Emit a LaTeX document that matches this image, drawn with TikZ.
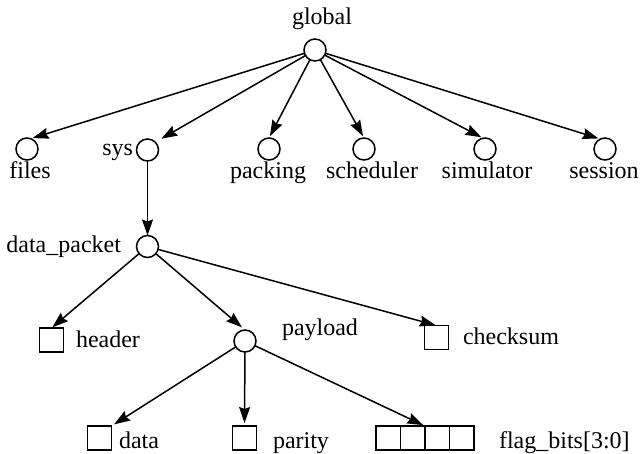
\documentclass[tikz,border=0pt]{standalone}
\usepackage{fontspec}
\setmainfont{Liberation Serif}
\usetikzlibrary{arrows.meta,calc}
\begin{document}
\begin{tikzpicture}[x=1pt,y=-1pt,
  every node/.style={inner sep=0pt,outer sep=0pt},
  dot/.style={draw,circle,line width=1.5pt,minimum size=22pt},
  box/.style={draw,rectangle,line width=1.5pt,minimum width=24pt,minimum height=24pt},
  lbl/.style={font=\fontsize{24}{28}\selectfont},
  arr/.style={line width=1.5pt,-{Stealth[length=16pt,width=11pt,inset=2pt]}},
  wire/.style={line width=1.5pt}]
\useasboundingbox (0,0) rectangle (644,454);

% root scope
\node[dot] (global) at (315,50) {};
\node[lbl,anchor=base] (globalL) at (322,25) {global};

% first level
\node[dot] (files) at (27,149) {};
\node[dot] (sys) at (147.5,150) {};
\node[dot] (packing) at (269,149) {};
\node[dot] (scheduler) at (364,149) {};
\node[dot] (simulator) at (485,149) {};
\node[dot] (session) at (605,149) {};
\node[lbl,anchor=base] (filesL) at (30,179) {files};
\node[lbl,anchor=base east] (sysL) at (133,156) {sys};
\node[lbl,anchor=base] (packingL) at (268,179) {packing};
\node[lbl,anchor=base] (schedulerL) at (372,179) {scheduler};
\node[lbl,anchor=base] (simulatorL) at (487,179) {simulator};
\node[lbl,anchor=base] (sessionL) at (604,179) {session};

% data_packet structure
\node[dot] (dp) at (147.5,246.5) {};
\node[lbl,anchor=base east] (dpL) at (121,252) {data\_packet};
\node[box] (header) at (51.5,340) {};
\node[lbl,anchor=base west] (headerL) at (76,347) {header};
\node[dot] (payload) at (245,341) {};
\node[lbl,anchor=base west] (payloadL) at (282,335) {payload};
\node[box] (checksum) at (436.5,337.5) {};
\node[lbl,anchor=base west] (checksumL) at (463,344) {checksum};

% payload fields
\node[box] (data) at (99.5,438) {};
\node[lbl,anchor=base west] (dataL) at (119,448) {data};
\node[box] (parity) at (244.5,438) {};
\node[lbl,anchor=base west] (parityL) at (273,448) {parity};
\node[box,minimum width=98pt] (flags) at (425,438) {};
\foreach \f in {0.25,0.5,0.75}
  \draw[wire] ($(flags.north west)!\f!(flags.north east)$) -- ($(flags.south west)!\f!(flags.south east)$);
\node[lbl,anchor=base west] (flagsL) at (499,448) {flag\_bits[3:0]};

% connectors
\draw[arr,shorten >=2pt] (global) -- (files.70);
\draw[arr,shorten >=7pt] (global) -- (sys.45);
\draw[arr,shorten >=2pt] (global) -- (packing.north);
\draw[arr,shorten >=2pt] (global) -- (scheduler.north);
\draw[arr,shorten >=2pt] (global) -- (simulator.100);
\draw[arr,shorten >=2pt] (global) -- (session.115);
\draw[arr] (sys) -- (dp);
\draw[arr,shorten >=1pt] (dp) -- (header.north);
\draw[arr,shorten >=4pt] (dp) -- (payload.north);
\draw[arr,shorten >=1pt] (dp) -- (checksum.north);
\draw[arr,shorten >=3pt] (payload) -- (data.north east);
\draw[arr,shorten >=3pt] (payload) -- (parity.north);
\draw[arr,shorten >=2pt] (payload) -- (flags.north);
\end{tikzpicture}
\end{document}
